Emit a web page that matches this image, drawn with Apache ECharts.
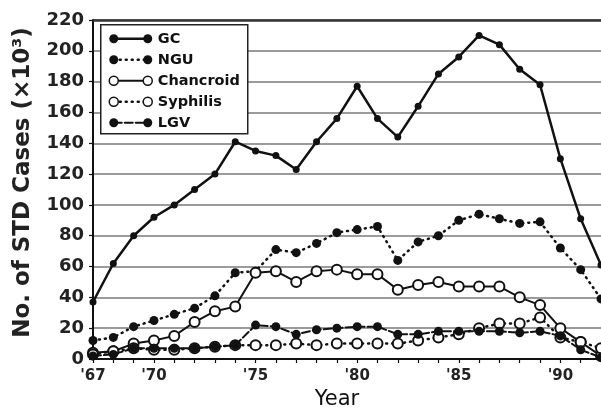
<!DOCTYPE html>
<html>
<head>
<meta charset="utf-8">
<script src="https://cdn.jsdelivr.net/npm/echarts@6/dist/echarts.min.js"></script>
<style>
  html, body { margin: 0; padding: 0; background: #fff; }
  #chart { width: 601px; height: 409px; }
</style>
</head>
<body>
<div id="chart"></div>
<script>
// Reported STD cases per year, in thousands
const years = [1967, 1968, 1969, 1970, 1971, 1972, 1973, 1974, 1975, 1976, 1977, 1978, 1979,
               1980, 1981, 1982, 1983, 1984, 1985, 1986, 1987, 1988, 1989, 1990, 1991, 1992];
const gc        = [37, 62, 80, 92, 100, 110, 120, 141, 135, 132, 123, 141, 156,
                   177, 156, 144, 164, 185, 196, 210, 204, 188, 178, 130, 91, 61];
const ngu       = [12, 14, 21, 25, 29, 33, 41, 56, 57, 71, 69, 75, 82,
                   84, 86, 64, 76, 80, 90, 94, 91, 88, 89, 72, 58, 39];
const chancroid = [4, 5, 10, 12, 15, 24, 31, 34, 56, 57, 50, 57, 58,
                   55, 55, 45, 48, 50, 47, 47, 47, 40, 35, 20, 11, 2];
const syphilis  = [3, 5, 7, 6, 6, 7, 8, 9, 9, 9, 10, 9, 10,
                   10, 10, 10, 12, 14, 16, 20, 23, 23, 27, 14, 11, 7];
const lgv       = [2, 3, 7, 7, 7, 7, 8, 9, 22, 21, 16, 19, 20,
                   21, 21, 16, 16, 18, 18, 18, 18, 17, 18, 15, 6, 1];

// Year axis labels
const labelYears = [1967, 1970, 1975, 1980, 1985, 1990];
const labelTexts = ["'67", "'70", "'75", "'80", "'85", "'90"];

const yMin = 0, yMax = 220, yStep = 20;

const FONT = 'DejaVu Sans';
const INK = '#111';

const defs = [
  { name: 'GC',        values: gc,        filled: true,  dash: 'solid', width: 2.5, size: 7 },
  { name: 'NGU',       values: ngu,       filled: true,  dash: [1, 5],  width: 2.5, size: 9 },
  { name: 'Chancroid', values: chancroid, filled: false, dash: 'solid', width: 2,   size: 10 },
  { name: 'Syphilis',  values: syphilis,  filled: false, dash: [1, 5],  width: 2.5, size: 10 },
  { name: 'LGV',       values: lgv,       filled: true,  dash: [8, 3],  width: 2,   size: 9 }
];

const series = defs.map((d, i) => {
  const s = {
    name: d.name,
    type: 'line',
    data: years.map((y, k) => [y, d.values[k]]),
    symbol: d.filled ? 'circle' : 'emptyCircle',
    symbolSize: d.size,
    showSymbol: true,
    showAllSymbol: true,
    lineStyle: { color: INK, width: d.width, type: d.dash, cap: 'round' },
    itemStyle: d.filled
      ? { color: INK }
      : { color: INK, borderColor: INK, borderWidth: 1.5 },
    z: 2 + i,
    silent: true
  };
  if (i === 0) {
    // heavy frame line along the top of the plot
    s.markLine = {
      silent: true,
      symbol: 'none',
      label: { show: false },
      lineStyle: { color: '#333', width: 2.5, type: 'solid' },
      data: [{ yAxis: yMax }]
    };
  }
  return s;
});

// Legend box: each row shows marker, line, marker and the series name
const legendLeft = 100, legendTop = 24, rowGap = 21;
const legendChildren = [{
  type: 'rect',
  z: 100,
  shape: { x: 0, y: 0, width: 147, height: 109 },
  style: { fill: '#fff', stroke: '#222', lineWidth: 1.5 }
}];
defs.forEach((d, i) => {
  const y = 14 + i * rowGap;
  legendChildren.push({
    type: 'line',
    z: 101,
    shape: { x1: 13, y1: y, x2: 47, y2: y },
    style: {
      stroke: INK, lineWidth: d.width,
      lineDash: d.dash === 'solid' ? null : d.dash, lineCap: 'round'
    }
  });
  [13, 47].forEach(cx => legendChildren.push({
    type: 'circle',
    z: 102,
    shape: { cx: cx, cy: y, r: 4.5 },
    style: d.filled ? { fill: INK } : { fill: '#fff', stroke: INK, lineWidth: 1.5 }
  }));
  legendChildren.push({
    type: 'text',
    z: 102,
    x: 57, y: y,
    style: {
      text: d.name, fill: INK, font: 'bold 14.5px "' + FONT + '"',
      verticalAlign: 'middle', align: 'left'
    }
  });
});

const chart = echarts.init(document.getElementById('chart'), null, { renderer: 'canvas' });
chart.setOption({
  animation: false,
  backgroundColor: '#fff',
  grid: { left: 93, right: 0, top: 20, bottom: 50, containLabel: false, outerBoundsMode: 'none' },
  xAxis: {
    type: 'value',
    min: years[0],
    max: years[years.length - 1],
    interval: 1,
    name: 'Year',
    nameLocation: 'middle',
    nameGap: 29,
    nameTextStyle: { fontFamily: FONT, fontSize: 21, color: INK, padding: [0, 20, 0, 0] },
    axisLine: { show: true, onZero: false, lineStyle: { color: INK, width: 2 } },
    axisTick: { show: true, length: 4, lineStyle: { color: INK, width: 1.2 } },
    axisLabel: {
      fontFamily: FONT, fontSize: 15, fontWeight: 'bold', color: '#222', margin: 10,
      formatter: v => {
        const k = labelYears.indexOf(v);
        return k >= 0 ? labelTexts[k] : '';
      }
    },
    splitLine: { show: false }
  },
  yAxis: {
    type: 'value',
    min: yMin,
    max: yMax,
    interval: yStep,
    name: 'No. of STD Cases (×10³)',
    nameLocation: 'middle',
    nameRotate: 90,
    nameGap: 58,
    nameTextStyle: { fontFamily: FONT, fontSize: 23, fontWeight: 'bold', color: '#222', padding: [0, 0, 0, 14] },
    axisLine: { show: true, lineStyle: { color: INK, width: 2 } },
    axisTick: { show: true, length: 4, lineStyle: { color: INK, width: 1.2 } },
    axisLabel: { fontFamily: FONT, fontSize: 18, fontWeight: 'bold', color: '#222', margin: 9 },
    splitLine: { show: true, lineStyle: { color: '#7a7a7a', width: 1.5 } }
  },
  series: series,
  graphic: [{
    type: 'group',
    left: legendLeft,
    top: legendTop,
    children: legendChildren
  }]
});
</script>
</body>
</html>
